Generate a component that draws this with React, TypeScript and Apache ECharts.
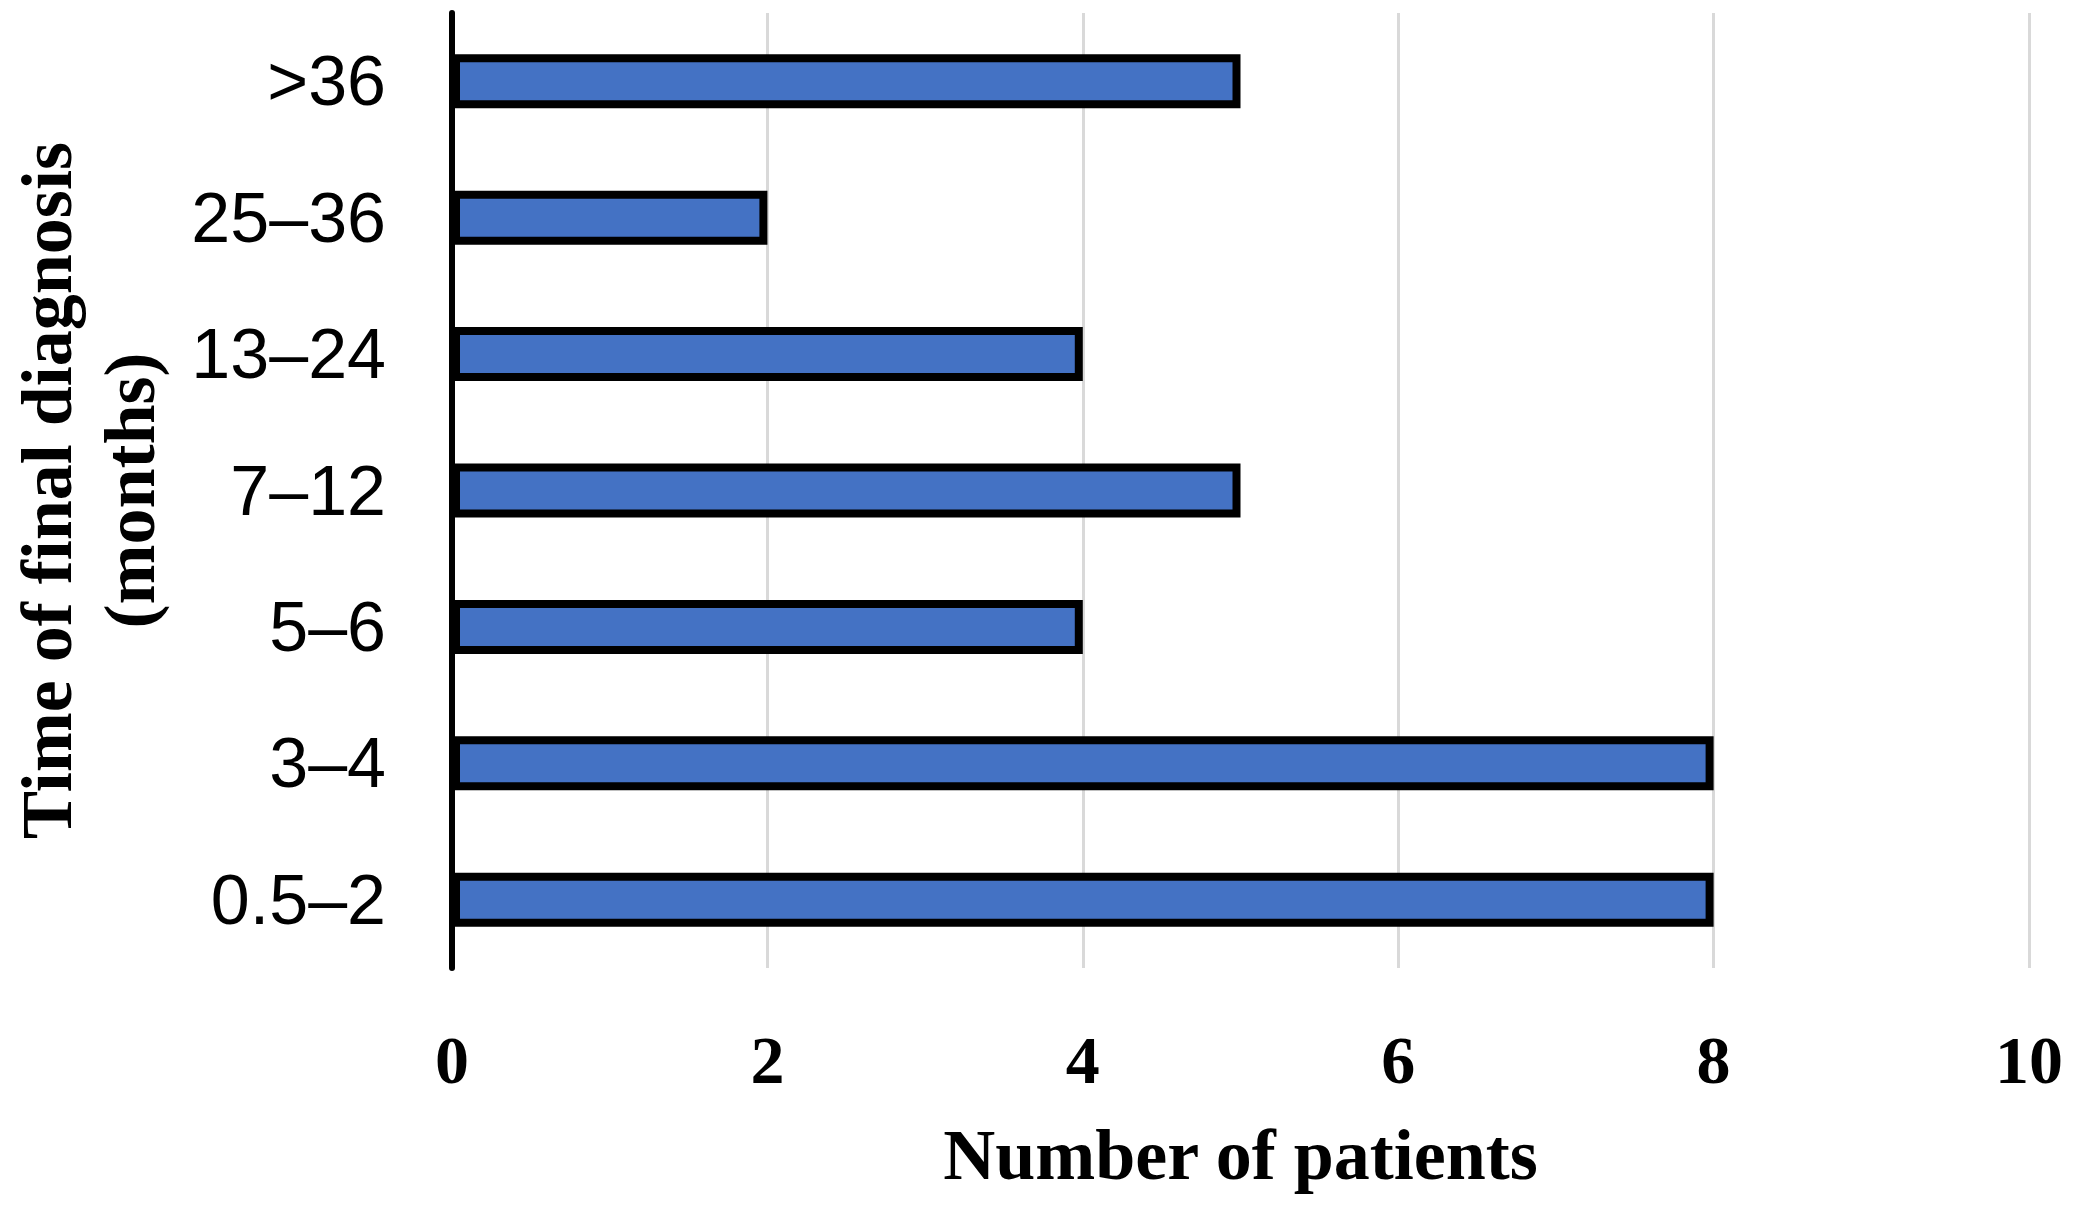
import React, { useEffect, useRef } from "react";
import * as echarts from "echarts";

const categories = ["0.5–2", "3–4", "5–6", "7–12", "13–24", "25–36", ">36"];
const patientCounts = [8, 8, 4, 5, 4, 2, 5];
const xTicks = { min: 0, max: 10, interval: 2 };
const xAxisTitle = "Number of patients";
const yAxisTitle = "Time of final diagnosis\n(months)";

export default function App() {
  const ref = useRef<HTMLDivElement>(null);
  useEffect(() => {
    if (!ref.current) return;
    const chart = echarts.init(ref.current, null, { renderer: "svg" });
    chart.setOption({
      animation: false,
      backgroundColor: "#ffffff",
      grid: { left: 452, right: 45, top: 13, bottom: 238, containLabel: false, outerBoundsMode: "none" },
      xAxis: {
        type: "value",
        min: xTicks.min,
        max: xTicks.max,
        interval: xTicks.interval,
        axisLine: { show: false },
        axisTick: { show: false },
        splitLine: { show: true, lineStyle: { color: "#d9d9d9", width: 3 } },
        axisLabel: {
          margin: 58,
          fontFamily: "Liberation Serif",
          fontWeight: "bold",
          fontSize: 68,
          color: "#000",
        },
        name: xAxisTitle,
        nameLocation: "middle",
        nameGap: 151,
        nameTextStyle: {
          fontFamily: "Liberation Serif",
          fontWeight: "bold",
          fontSize: 72,
          color: "#000",
        },
      },
      yAxis: {
        type: "category",
        data: categories,
        axisLine: { show: true, lineStyle: { color: "#000", width: 6 } },
        axisTick: { show: false },
        splitLine: { show: false },
        axisLabel: {
          margin: 66,
          fontFamily: "Liberation Sans",
          fontSize: 70,
          color: "#000",
        },
        name: yAxisTitle,
        nameLocation: "middle",
        nameRotate: 90,
        nameGap: 281,
        nameTextStyle: {
          fontFamily: "Liberation Serif",
          fontWeight: "bold",
          fontSize: 72,
          lineHeight: 83,
          color: "#000",
        },
      },
      series: [
        {
          type: "bar",
          data: patientCounts,
          barWidth: 54,
          itemStyle: { color: "#4472C4", borderColor: "#000", borderWidth: 8 },
        },
      ],
    });
    return () => chart.dispose();
  }, []);
  return (
    <div
      ref={ref}
      style={{ position: "fixed", left: 0, top: 0, width: 2074, height: 1206, background: "#fff" }}
    />
  );
}
